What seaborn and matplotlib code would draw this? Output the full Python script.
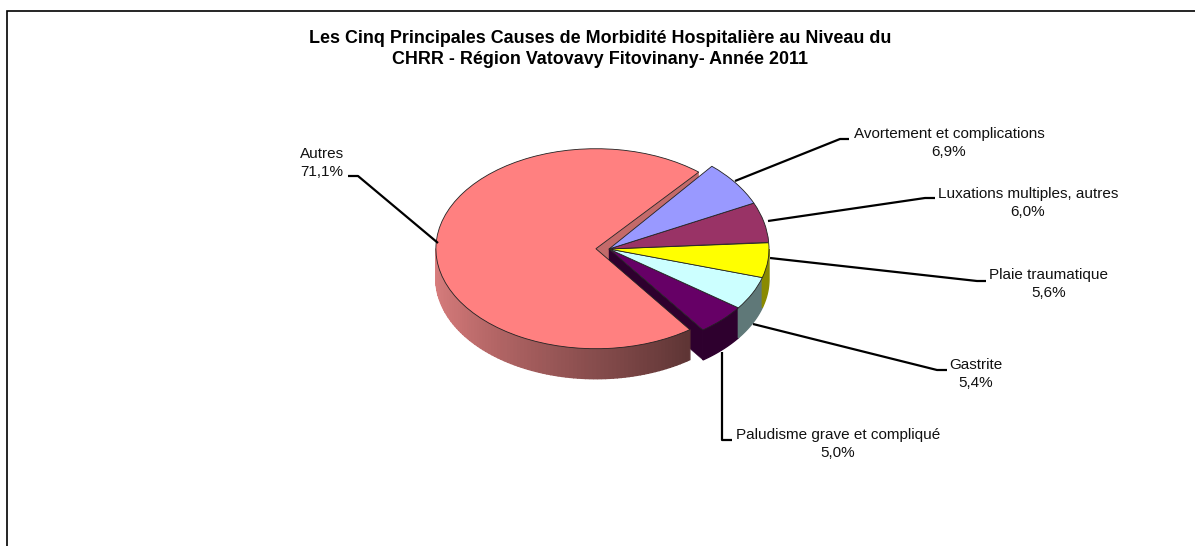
"""Pie chart of hospital morbidity causes, drawn with a fake 3D wall."""
import numpy as np
import matplotlib
matplotlib.use("Agg")
import matplotlib.pyplot as plt
from matplotlib.transforms import Affine2D
import seaborn as sns

# ------------------------------------------------------------------
# Data
# ------------------------------------------------------------------
categories = ["Autres", "Paludisme grave et compliqué", "Gastrite",
              "Plaie traumatique", "Luxations multiples, autres",
              "Avortement et complications"]
percents = [71.1, 5.0, 5.4, 5.6, 6.0, 6.9]
explode = [0.082, 0, 0, 0, 0, 0]
title_lines = ["Les Cinq Principales Causes de Morbidité Hospitalière au Niveau du",
               "CHRR - Région Vatovavy Fitovinany- Année 2011"]

top_colors = ["#FF8080", "#660066", "#CCFFFF", "#FFFF00", "#993366", "#9999FF"]
wall_colors = [None, "#2E002E", "#5F7878", "#8A8A00", "#5C1F3D", "#5C5C99"]
autres_wall = ["#DB8080", "#C87272", "#A65E5E", "#824A4A", "#5F3535"]

# the far slices look taller in the original's perspective
far_stretch = [1, 1, 1, 1, 1.08, 1.08]

# label centre x, first line y, then the leader line (in image pixels)
label_pos = [(322, 154), (838, 435), (976, 365), (1049, 275), (1028, 194), (949, 134)]
leaders = [
    [(438, 243), (358, 176), (348, 176)],
    [(722, 352), (722, 440), (732, 440)],
    [(753, 324), (937, 370), (947, 370)],
    [(770, 258), (977, 281), (986, 281)],
    [(768, 221), (925, 198), (935, 198)],
    [(735, 181), (840, 139), (849, 139)],
]

W, H = 1195, 546
CX, CY = 609, 249       # pie centre, pixels
RX, RY = 160, 100       # squashed radius, pixels
DEPTH = 0.30            # wall height in pie units
START = 50


def rim(theta, off=(0, 0)):
    t = np.radians(theta)
    return off[0] + np.cos(t), off[1] + np.sin(t)


def wall_patch(ax, t1, t2, color, off=(0, 0), zorder=1):
    """Outer wall between two angles, extruded downward."""
    ts = np.linspace(t1, t2, 30)
    xs, ys = rim(ts, off)
    ax.fill(np.r_[xs, xs[::-1]], np.r_[ys, ys[::-1] - DEPTH],
            color=color, lw=1.0, zorder=zorder)


def cut_wall(ax, theta, color, off=(0, 0), zorder=1):
    """Radial cut face from the apex to the rim, extruded downward."""
    x, y = rim(theta, off)
    ax.fill([off[0], x, x, off[0]], [off[1], y, y - DEPTH, off[1] - DEPTH],
            color=color, lw=0.3, zorder=zorder)


sns.set_theme(style="white")
plt.rcParams["font.family"] = ["Liberation Sans", "DejaVu Sans"]

fig = plt.figure(figsize=(W / 100, H / 100), dpi=100)
fig.patch.set_facecolor("white")

# ------------------------------------------------------------------
# Pie: unit circle squashed through the axes limits
# ------------------------------------------------------------------
ax = fig.add_axes([0, 0, 1, 1])
edges = START + np.cumsum([0] + percents) * 3.6
mids = (edges[:-1] + edges[1:]) / 2
off0 = (explode[0] * np.cos(np.radians(mids[0])), explode[0] * np.sin(np.radians(mids[0])))

# cut faces first, they sit behind everything
cut_wall(ax, edges[0], "#C46A6A", off0, zorder=1)
cut_wall(ax, edges[1], "#2E002E", zorder=1)

# outer walls of the small slices, only the front half shows
for i in range(1, len(percents)):
    lo, hi = max(edges[i], 180), min(edges[i + 1], 360)
    if hi > lo:
        wall_patch(ax, lo, hi, wall_colors[i], zorder=2)

# shaded wall of the big slice
steps = np.linspace(180, edges[1], 90)
shades = sns.blend_palette(autres_wall, len(steps) - 1)
for a, b, c in zip(steps[:-1], steps[1:], shades):
    wall_patch(ax, a, b, c, off0, zorder=3)

wedges, _ = ax.pie(percents, startangle=START, explode=explode, colors=top_colors,
                   wedgeprops={"edgecolor": "#222222", "linewidth": 0.6, "zorder": 4})
ax.set_aspect("auto")
ax.set_xlim(-CX / RX, (W - CX) / RX)
ax.set_ylim((CY - H) / RY, CY / RY)
ax.axis("off")

for wedge, stretch in zip(wedges, far_stretch):
    if stretch != 1:
        wedge.set_transform(Affine2D().scale(1, stretch) + ax.transData)

# ------------------------------------------------------------------
# Overlay in pixel coordinates: frame, title, labels
# ------------------------------------------------------------------
over = fig.add_axes([0, 0, 1, 1], facecolor="none")
over.set_xlim(0, W)
over.set_ylim(H, 0)
over.axis("off")

over.plot([7.5, 7.5, W], [H, 10.7, 10.7], color="black", lw=1.2, solid_joinstyle="miter")

for i, line in enumerate(title_lines):
    over.text(600, 38.5 + i * 21, line, ha="center", va="center",
              fontsize=12.9, fontweight="bold", color="black")

for name, pct, (x, y), pts in zip(categories, percents, label_pos, leaders):
    xs, ys = zip(*pts)
    over.plot(xs, ys, color="black", lw=1.6, solid_capstyle="butt")
    over.text(x, y, name, ha="center", va="center", fontsize=11, color="#111111")
    over.text(x, y + 18, f"{pct:.1f}%".replace(".", ","), ha="center", va="center",
              fontsize=11, color="#111111")

fig.savefig("out.png", dpi=100)
